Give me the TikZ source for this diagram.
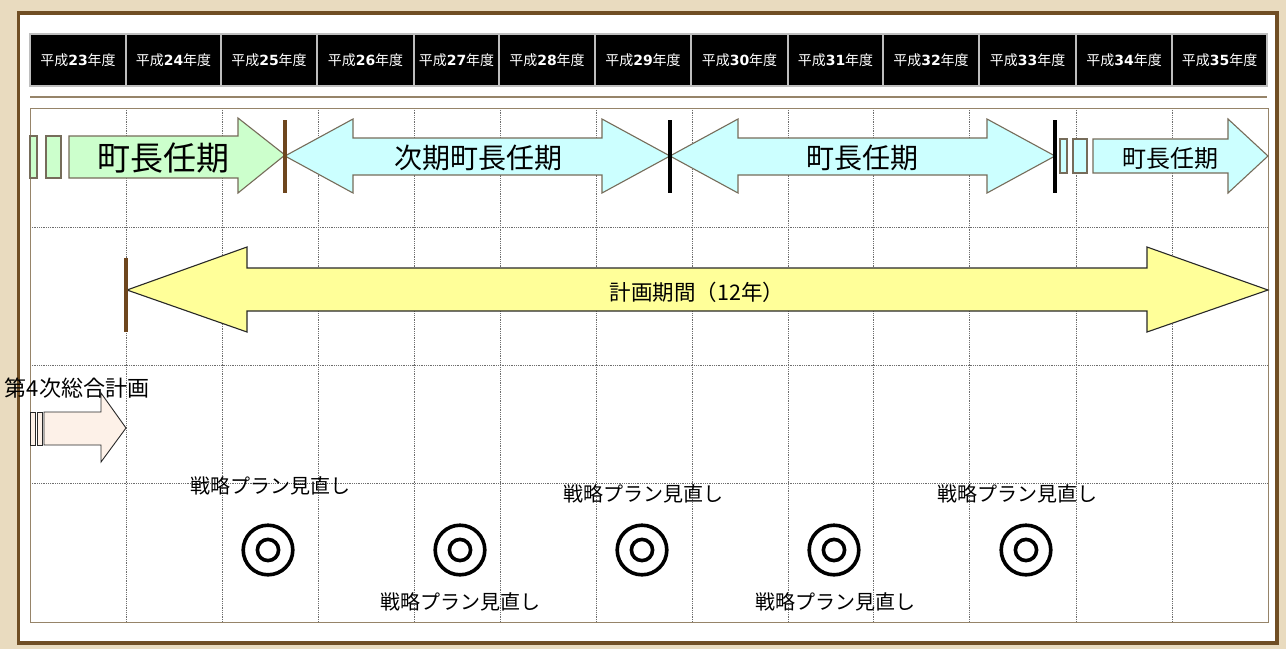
\documentclass[tikz,border=0pt]{standalone}
\usepackage{fontspec}
\setmainfont{Noto Sans CJK JP}
\newfontfamily\dvfont{DejaVu Sans}
\definecolor{parch}{RGB}{233,219,191}
\definecolor{framebrown}{RGB}{112,78,36}
\definecolor{gridc}{RGB}{150,132,105}
\definecolor{greenf}{RGB}{204,255,204}
\definecolor{cyanf}{RGB}{204,255,255}
\definecolor{yellowf}{RGB}{255,255,153}
\definecolor{peachf}{RGB}{253,241,232}
\definecolor{arrowline}{RGB}{118,108,90}
\definecolor{barbrown}{RGB}{110,70,30}
\tikzset{
  hdrcell/.style={fill=black,draw={rgb,255:red,190;green,190;blue,190},line width=1.5pt},
  hdrtext/.style={text=white,font=\fontsize{14}{16}\selectfont,inner sep=0pt},
  gridline/.style={densely dotted,draw={rgb,255:red,110;green,110;blue,110},line width=0.8pt},
  toparrow/.style={draw=arrowline,line width=1.1pt,line join=miter},
  bigarrow/.style={draw={rgb,255:red,40;green,40;blue,40},line width=1.1pt,line join=miter},
  termbar/.style={line width=4.5pt},
  bigtext/.style={inner sep=0pt,text=black},
  revtext/.style={inner sep=0pt,font=\fontsize{20}{22}\selectfont},
  ring/.style={draw=black,line width=3.6pt}
}
\begin{document}
\begin{tikzpicture}[x=1pt,y=-1pt]
\useasboundingbox (0,0) rectangle (1286,649);
% background and frame
\fill[parch] (0,0) rectangle (1286,649);
\fill[white] (18.5,13) rectangle (1277,643);
\draw[framebrown,line width=3.5pt] (18.5,13) rectangle (1277,643);
% header
\foreach \a/\b/\n in {30/126/23,126/221/24,221/317/25,317/414/26,414/499/27,499/595/28,595/691/29,691/788/30,788/883/31,883/979/32,979/1076/33,1076/1172/34,1172/1267/35}{
  \draw[hdrcell] (\a,34) rectangle (\b,86);
  \node[hdrtext] (h\n) at ({(\a+\b)/2},60) {平成{\dvfont\bfseries\fontsize{14}{16}\selectfont \n}年度};
}
\draw[gridc,line width=1.4pt] (30,97) -- (1267,97);
% grid
\foreach \x in {126,222,318,414,500,596,692,788,873,969,1076,1172}{
  \draw[gridline] (\x,108) -- (\x,622);
}
\foreach \y in {227,365,483}{
  \draw[gridline] (30,\y) -- (1268,\y);
}
\draw[gridc,line width=1pt] (30,108) rectangle (1268,622);
% row 1: mayor terms
\filldraw[fill=greenf,toparrow] (30,136) rectangle (37,178);
\filldraw[fill=greenf,toparrow] (46,136) rectangle (61,178);
\filldraw[fill=greenf,toparrow] (69,136) -- (238,136) -- (238,118) -- (285,155) -- (238,193) -- (238,178) -- (69,178) -- cycle;
\node[bigtext,font=\fontsize{33}{36}\selectfont] (t1) at (163,158) {町長任期};
\filldraw[fill=cyanf,toparrow] (285,156) -- (353,119) -- (353,138) -- (602,138) -- (602,119) -- (670,156) -- (602,193) -- (602,175) -- (353,175) -- (353,193) -- cycle;
\node[bigtext,font=\fontsize{28}{32}\selectfont] (t2) at (478,158) {次期町長任期};
\filldraw[fill=cyanf,toparrow] (670,156) -- (738,119) -- (738,138) -- (987,138) -- (987,119) -- (1055,156) -- (987,193) -- (987,175) -- (738,175) -- (738,193) -- cycle;
\node[bigtext,font=\fontsize{28}{32}\selectfont] (t3) at (862,158) {町長任期};
\filldraw[fill=cyanf,toparrow] (1060,139) rectangle (1067,173);
\filldraw[fill=cyanf,toparrow] (1073,139) rectangle (1087,173);
\filldraw[fill=cyanf,toparrow] (1093,139) -- (1228,139) -- (1228,119) -- (1268,156) -- (1228,193) -- (1228,173) -- (1093,173) -- cycle;
\node[bigtext,font=\fontsize{24}{28}\selectfont] (t4) at (1170,158) {町長任期};
\draw[termbar,barbrown] (285,120) -- (285,193);
\draw[termbar,black] (670,120) -- (670,193);
\draw[termbar,black] (1055,120) -- (1055,193);
% row 2: plan period
\filldraw[fill=yellowf,bigarrow] (127,290) -- (247,247) -- (247,268) -- (1147,268) -- (1147,247) -- (1268,290) -- (1147,332) -- (1147,311) -- (247,311) -- (247,332) -- cycle;
\draw[termbar,barbrown] (126,258) -- (126,332);
\node[bigtext,font=\fontsize{21.5}{24}\selectfont] (pp) at (697,292) {計画期間（12年）};
% row 3: 4th plan
\filldraw[fill=peachf,bigarrow,line width=0.9pt] (30,412) rectangle (35,445);
\filldraw[fill=peachf,bigarrow,line width=0.9pt] (37,412) rectangle (42,445);
\filldraw[fill=peachf,bigarrow,line width=0.9pt] (44,412) -- (101,412) -- (101,393) -- (126,428) -- (101,462) -- (101,445) -- (44,445) -- cycle;
\node[bigtext,font=\fontsize{22}{24}\selectfont] (p4) at (77,388) {第4次総合計画};
% row 4: reviews
\foreach \cx/\i in {268/1,460/2,642/3,834/4,1026/5}{
  \draw[ring] (\cx,550) circle (24.8);
  \draw[ring] (\cx,550) circle (10.6);
  \coordinate (c\i) at (\cx,550);
}
\node[revtext] (r1) at (270,486) {戦略プラン見直し};
\node[revtext] (r2) at (460,602) {戦略プラン見直し};
\node[revtext] (r3) at (643,494) {戦略プラン見直し};
\node[revtext] (r4) at (835,602) {戦略プラン見直し};
\node[revtext] (r5) at (1017,494) {戦略プラン見直し};
\end{tikzpicture}
\end{document}
